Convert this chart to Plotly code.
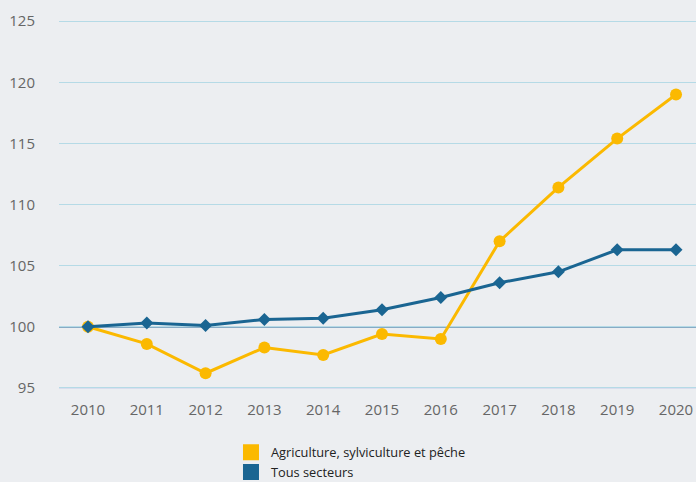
import plotly.graph_objects as go

years = [2010, 2011, 2012, 2013, 2014, 2015, 2016, 2017, 2018, 2019, 2020]
agri = [100.0, 98.6, 96.2, 98.3, 97.7, 99.4, 99.0, 107.0, 111.4, 115.4, 119.0]
tous = [100.0, 100.3, 100.1, 100.6, 100.7, 101.4, 102.4, 103.6, 104.5, 106.3, 106.3]
y_ticks = [95, 100, 105, 110, 115, 120, 125]
names = ["Agriculture, sylviculture et pêche", "Tous secteurs"]

YELLOW = "#fbb900"
BLUE = "#1a6592"
BG = "#eceef1"

fig = go.Figure()
fig.add_trace(go.Scatter(x=years, y=agri, mode="lines+markers", showlegend=False,
                         line=dict(color=YELLOW, width=3),
                         marker=dict(color=YELLOW, size=12, symbol="circle")))
fig.add_trace(go.Scatter(x=years, y=tous, mode="lines+markers", showlegend=False,
                         line=dict(color=BLUE, width=3),
                         marker=dict(color=BLUE, size=10, symbol="diamond")))
# legend entries
fig.add_trace(go.Scatter(x=[None], y=[None], mode="markers", name=names[0], legendgroup="a",
                         marker=dict(color=YELLOW, size=19, symbol="square")))
fig.add_trace(go.Scatter(x=[None], y=[None], mode="markers", name=names[1], legendgroup="b",
                         marker=dict(color=BLUE, size=19, symbol="square")))

fig.add_hline(y=y_ticks[0], line=dict(color="#c3cbeb", width=1.2), layer="below")
fig.add_hline(y=100, line=dict(color="#22699a", width=1.6), layer="below")

fig.update_layout(
    width=696, height=482,
    margin=dict(l=59, r=0, t=9, b=88, autoexpand=False),
    paper_bgcolor=BG, plot_bgcolor=BG,
    font=dict(family="Open Sans", color="#555555"),
    showlegend=True,
    legend=dict(x=0.27, y=-0.113, xanchor="left", yanchor="top",
                bgcolor="rgba(0,0,0,0)", font=dict(size=12.8, color="#222222"),
                itemsizing="trace", tracegroupgap=0, itemwidth=30),
    xaxis=dict(range=[2009.507, 2020.34], tickvals=years, ticktext=[str(y) for y in years],
               showgrid=False, zeroline=False, showline=False,
               tickfont=dict(size=15, color="#666666"), ticks="outside", ticklen=2,
               tickcolor="rgba(0,0,0,0)"),
    yaxis=dict(range=[94.5, 126], tickvals=y_ticks, showgrid=True, gridcolor="#b5dae6",
               gridwidth=1.2, zeroline=False, showline=False,
               tickfont=dict(size=15, color="#666666"), ticks="outside", ticklen=20,
               tickcolor="rgba(0,0,0,0)"),
)

fig.write_html("out.html", config={"displayModeBar": False},
               post_script="document.body.style.margin='0';")
